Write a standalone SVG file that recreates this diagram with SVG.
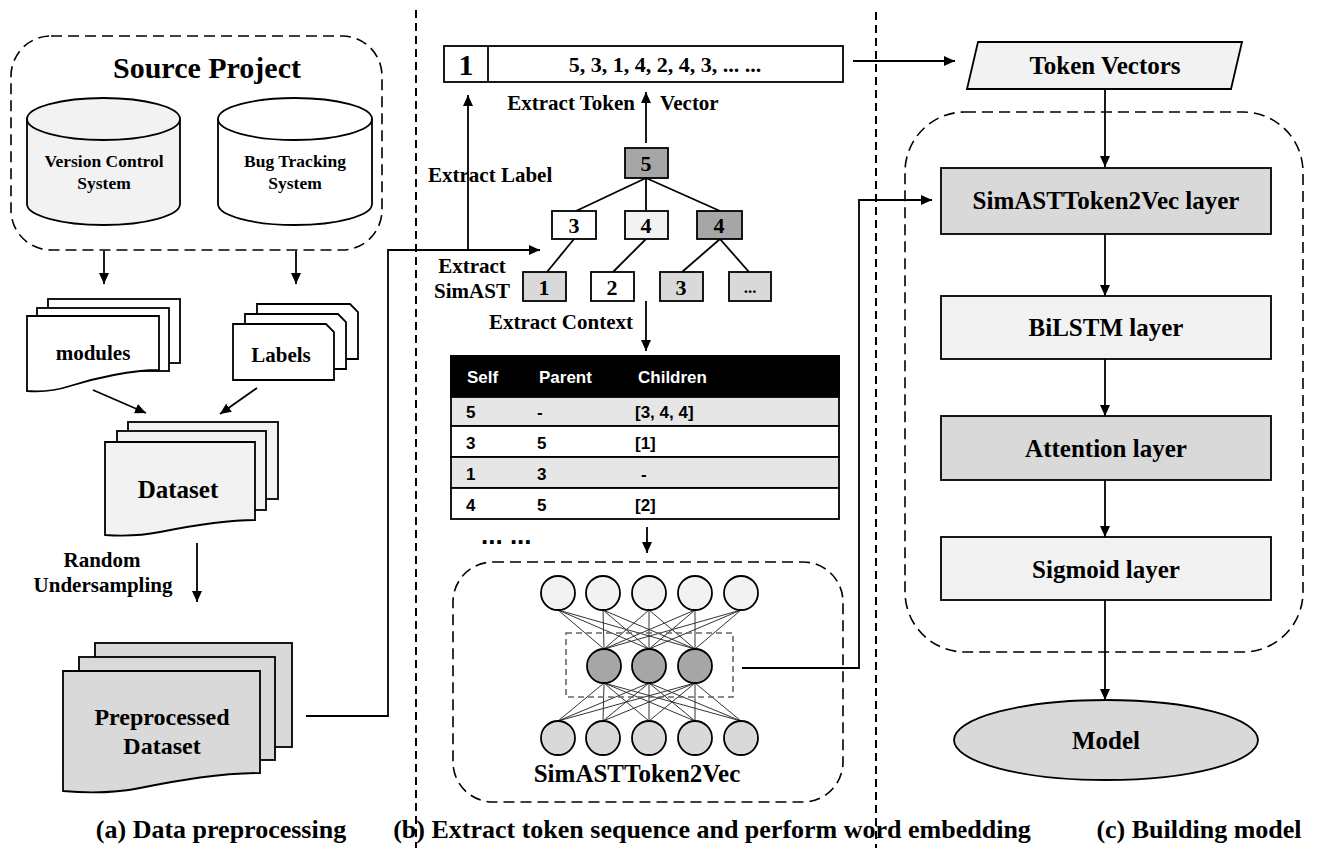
<svg xmlns="http://www.w3.org/2000/svg" width="1317" height="848" viewBox="0 0 1317 848">
<style>
.t{font-family:"Liberation Serif","Times New Roman",serif;font-weight:bold;fill:#000}
.s{font-family:"Liberation Sans",Arial,sans-serif;font-weight:bold;fill:#000;font-size:17px}
.c{text-anchor:middle}
.ln{stroke:#000;stroke-width:1.8;fill:none}
.ar{stroke:#000;stroke-width:1.8;fill:none;marker-end:url(#ah)}
.bx{stroke:#000;stroke-width:1.8}
.dash{fill:none;stroke:#000;stroke-width:1.6;stroke-dasharray:11 6}
.sep{fill:none;stroke:#000;stroke-width:2;stroke-dasharray:8 5}
.nn{stroke:#333;stroke-width:1}
.w{fill:#fff}.l{fill:#f2f2f2}.m{fill:#d9d9d9}.d{fill:#a6a6a6}
</style>
<defs>
<marker id="ah" markerUnits="userSpaceOnUse" markerWidth="11" markerHeight="10" refX="11" refY="5" orient="auto">
<path d="M0,0 L11,5 L0,10 z" fill="#000"/>
</marker>
</defs>
<rect width="1317" height="848" fill="#fff"/>

<!-- separators -->
<g id="separators">
<line class="sep" x1="416" y1="10" x2="416" y2="848"/>
<line class="sep" x1="876" y1="12" x2="876" y2="848"/>
</g>

<!-- (a) Data preprocessing -->
<g id="source-project">
<rect class="dash" x="11" y="36" width="371" height="214" rx="40"/>
<text class="t c" x="207" y="78" font-size="30">Source Project</text>
</g>
<g id="vcs">
<path class="bx l" d="M27,119 V204 A76.5,21 0 0 0 180,204 V119"/>
<ellipse class="bx l" cx="103.5" cy="119" rx="76.5" ry="21"/>
<text class="t c" x="104" y="167" font-size="17.5">Version Control</text>
<text class="t c" x="104" y="189" font-size="17.5">System</text>
</g>
<g id="bts">
<path class="bx w" d="M218,119 V204 A77,21 0 0 0 372,204 V119"/>
<ellipse class="bx w" cx="295" cy="119" rx="77" ry="21"/>
<text class="t c" x="295" y="167" font-size="17.5">Bug Tracking</text>
<text class="t c" x="295" y="189" font-size="17.5">System</text>
</g>
<g id="modules">
<rect class="bx w" x="48" y="299" width="132" height="64"/>
<rect class="bx w" x="37" y="308" width="132" height="63"/>
<path class="bx w" d="M27,316 H159 V370 C132,370 95,378 70,386 C55,391 40,392 27,391 Z"/>
<text class="t c" x="93" y="360" font-size="21">modules</text>
</g>
<g id="labels">
<path class="bx w" d="M257,304 H350 L358,312 V359 H257 Z"/>
<path class="bx w" d="M245,314 H338 L346,322 V369 H245 Z"/>
<path class="bx w" d="M233,324 H326 L334,332 V380 H233 Z"/>
<text class="t c" x="281" y="362" font-size="21">Labels</text>
</g>
<g id="dataset">
<rect class="bx l" x="128" y="422" width="150" height="77"/>
<rect class="bx l" x="117" y="431" width="149" height="79"/>
<path class="bx l" d="M105,442 H255 V520 C225,520 190,526 160,532 C140,536 120,536 105,535 Z"/>
<text class="t c" x="178" y="498" font-size="25">Dataset</text>
</g>
<g id="undersampling-label">
<text class="t c" x="102" y="567" font-size="21">Random</text>
<text class="t c" x="103" y="592" font-size="21">Undersampling</text>
</g>
<g id="preprocessed">
<rect class="bx m" x="95" y="643" width="197" height="104"/>
<rect class="bx m" x="79" y="657" width="196" height="103"/>
<path class="bx m" d="M63,671 H260 V773 C220,773 180,780 140,788 C110,794 85,793 63,791 Z"/>
<text class="t c" x="162" y="725" font-size="24">Preprocessed</text>
<text class="t c" x="162" y="754" font-size="24">Dataset</text>
</g>
<text class="t c" x="221" y="838" font-size="26">(a) Data preprocessing</text>

<!-- (b) -->
<g id="token-vector-box">
<rect class="bx w" x="444" y="46" width="399" height="36"/>
<line class="ln" x1="488" y1="46" x2="488" y2="82"/>
<text class="t c" x="466" y="75" font-size="30">1</text>
<text class="t c" x="665" y="72" font-size="22">5, 3, 1, 4, 2, 4, 3, ... ...</text>
</g>
<g id="tree">
<g class="ln">
<line x1="646" y1="178" x2="576" y2="211"/>
<line x1="646" y1="178" x2="646" y2="211"/>
<line x1="646" y1="178" x2="720" y2="211"/>
<line x1="574" y1="239" x2="547" y2="272"/>
<line x1="646" y1="239" x2="613" y2="272"/>
<line x1="720" y1="239" x2="682" y2="272"/>
<line x1="720" y1="239" x2="749" y2="272"/>
</g>
<g id="n5"><rect class="bx d" x="625" y="148" width="43" height="30"/><text class="t c" x="646" y="171" font-size="22">5</text></g>
<g id="n3"><rect class="bx w" x="552" y="211" width="44" height="28"/><text class="t c" x="574" y="233" font-size="22">3</text></g>
<g id="n4a"><rect class="bx l" x="625" y="211" width="43" height="28"/><text class="t c" x="646" y="233" font-size="22">4</text></g>
<g id="n4b"><rect class="bx d" x="697" y="211" width="45" height="28"/><text class="t c" x="719" y="233" font-size="22">4</text></g>
<g id="n1"><rect class="bx m" x="523" y="272" width="43" height="29"/><text class="t c" x="544" y="295" font-size="22">1</text></g>
<g id="n2"><rect class="bx w" x="591" y="272" width="43" height="29"/><text class="t c" x="612" y="295" font-size="22">2</text></g>
<g id="n3b"><rect class="bx m" x="660" y="272" width="43" height="29"/><text class="t c" x="681" y="295" font-size="22">3</text></g>
<g id="ndots"><rect class="bx m" x="729" y="272" width="42" height="29"/><text class="t c" x="750" y="293" font-size="17">...</text></g>
</g>
<g id="b-labels">
<text class="t" x="428" y="182" font-size="21">Extract Label</text>
<text class="t" font-size="21" y="110"><tspan x="635" text-anchor="end">Extract Token</tspan><tspan x="660">Vector</tspan></text>
<text class="t c" x="472" y="273" font-size="21">Extract</text>
<text class="t c" x="472" y="298" font-size="21">SimAST</text>
<text class="t" x="633" y="329" font-size="21" text-anchor="end">Extract Context</text>
</g>
<g id="context-table">
<rect x="451" y="356" width="388" height="41" fill="#000" stroke="#000" stroke-width="2"/>
<rect class="bx" x="451" y="397" width="388" height="29" fill="#e6e6e6"/>
<rect class="bx w" x="451" y="426" width="388" height="31"/>
<rect class="bx" x="451" y="457" width="388" height="31" fill="#e6e6e6"/>
<rect class="bx w" x="451" y="488" width="388" height="31"/>
<g class="s">
<text x="467" y="383" fill="#fff" style="fill:#fff">Self</text>
<text x="539" y="383" fill="#fff" style="fill:#fff">Parent</text>
<text x="638" y="383" fill="#fff" style="fill:#fff">Children</text>
</g>
<g class="s">
<text x="466" y="418">5</text><text x="537" y="418">-</text><text x="635" y="418">[3, 4, 4]</text>
<text x="466" y="449">3</text><text x="537" y="449">5</text><text x="635" y="449">[1]</text>
<text x="466" y="480">1</text><text x="537" y="480">3</text><text x="641" y="480">-</text>
<text x="466" y="511">4</text><text x="537" y="511">5</text><text x="635" y="511">[2]</text>
</g>
<text class="s" x="481" y="544" style="font-size:26px">... ...</text>
</g>
<g id="simast-token2vec">
<rect class="dash" x="453" y="562" width="390" height="240" rx="40"/>
<g class="nn">
<line x1="558" y1="610" x2="604" y2="649"/><line x1="558" y1="610" x2="649" y2="649"/><line x1="558" y1="610" x2="695" y2="649"/>
<line x1="603" y1="610" x2="604" y2="649"/><line x1="603" y1="610" x2="649" y2="649"/><line x1="603" y1="610" x2="695" y2="649"/>
<line x1="649" y1="610" x2="604" y2="649"/><line x1="649" y1="610" x2="649" y2="649"/><line x1="649" y1="610" x2="695" y2="649"/>
<line x1="695" y1="610" x2="604" y2="649"/><line x1="695" y1="610" x2="649" y2="649"/><line x1="695" y1="610" x2="695" y2="649"/>
<line x1="741" y1="610" x2="604" y2="649"/><line x1="741" y1="610" x2="649" y2="649"/><line x1="741" y1="610" x2="695" y2="649"/>
<line x1="604" y1="683" x2="558" y2="721"/><line x1="604" y1="683" x2="603" y2="721"/><line x1="604" y1="683" x2="649" y2="721"/><line x1="604" y1="683" x2="695" y2="721"/><line x1="604" y1="683" x2="741" y2="721"/>
<line x1="649" y1="683" x2="558" y2="721"/><line x1="649" y1="683" x2="603" y2="721"/><line x1="649" y1="683" x2="649" y2="721"/><line x1="649" y1="683" x2="695" y2="721"/><line x1="649" y1="683" x2="741" y2="721"/>
<line x1="695" y1="683" x2="558" y2="721"/><line x1="695" y1="683" x2="603" y2="721"/><line x1="695" y1="683" x2="649" y2="721"/><line x1="695" y1="683" x2="695" y2="721"/><line x1="695" y1="683" x2="741" y2="721"/>
</g>
<rect x="566" y="633" width="167" height="64" fill="none" stroke="#666" stroke-width="1.6" stroke-dasharray="6 4"/>
<g class="bx l">
<circle cx="558" cy="593" r="17"/><circle cx="603" cy="593" r="17"/><circle cx="649" cy="593" r="17"/><circle cx="695" cy="593" r="17"/><circle cx="741" cy="593" r="17"/>
</g>
<g class="bx d">
<circle cx="604" cy="666" r="17"/><circle cx="649" cy="666" r="17"/><circle cx="695" cy="666" r="17"/>
</g>
<g class="bx m">
<circle cx="558" cy="738" r="17"/><circle cx="603" cy="738" r="17"/><circle cx="649" cy="738" r="17"/><circle cx="695" cy="738" r="17"/><circle cx="741" cy="738" r="17"/>
</g>
<text class="t c" x="637" y="782" font-size="25">SimASTToken2Vec</text>
</g>
<text class="t c" x="712" y="838" font-size="26">(b) Extract token sequence and perform word embedding</text>

<!-- (c) -->
<g id="token-vectors">
<path class="bx l" d="M978,42 H1242 L1231,89 H967 Z"/>
<text class="t c" x="1105" y="74" font-size="25">Token Vectors</text>
</g>
<rect id="model-group" class="dash" x="905" y="112" width="398" height="540" rx="60"/>
<g id="layer-simast"><rect class="bx m" x="941" y="168" width="330" height="66"/><text class="t c" x="1106" y="209" font-size="25">SimASTToken2Vec layer</text></g>
<g id="layer-bilstm"><rect class="bx l" x="941" y="296" width="330" height="63"/><text class="t c" x="1106" y="336" font-size="25">BiLSTM layer</text></g>
<g id="layer-attention"><rect class="bx m" x="941" y="416" width="330" height="64"/><text class="t c" x="1106" y="457" font-size="25">Attention layer</text></g>
<g id="layer-sigmoid"><rect class="bx l" x="941" y="537" width="330" height="63"/><text class="t c" x="1106" y="578" font-size="25">Sigmoid layer</text></g>
<g id="model"><ellipse class="bx m" cx="1106" cy="740" rx="152" ry="40"/><text class="t c" x="1106" y="749" font-size="25">Model</text></g>
<text class="t c" x="1199" y="838" font-size="26">(c) Building model</text>

<!-- connectors -->
<g id="connectors">
<line class="ar" x1="104" y1="251" x2="104" y2="284"/>
<line class="ar" x1="296" y1="251" x2="296" y2="284"/>
<line class="ar" x1="93" y1="390" x2="146" y2="413"/>
<line class="ar" x1="257" y1="388" x2="220" y2="414"/>
<line class="ar" x1="197" y1="543" x2="197" y2="602"/>
<path class="ar" d="M306,716 H388 V250 H540"/>
<line class="ar" x1="468" y1="250" x2="468" y2="95"/>
<line class="ar" x1="646" y1="143" x2="646" y2="92"/>
<line class="ar" x1="646" y1="301" x2="646" y2="351"/>
<line class="ar" x1="647" y1="527" x2="647" y2="553"/>
<path class="ar" d="M742,668 H859 V200 H932"/>
<line class="ar" x1="853" y1="61" x2="955" y2="61"/>
<line class="ar" x1="1105" y1="89" x2="1105" y2="167"/>
<line class="ar" x1="1105" y1="234" x2="1105" y2="296"/>
<line class="ar" x1="1105" y1="359" x2="1105" y2="416"/>
<line class="ar" x1="1105" y1="480" x2="1105" y2="537"/>
<line class="ar" x1="1105" y1="600" x2="1105" y2="700"/>
</g>
</svg>
